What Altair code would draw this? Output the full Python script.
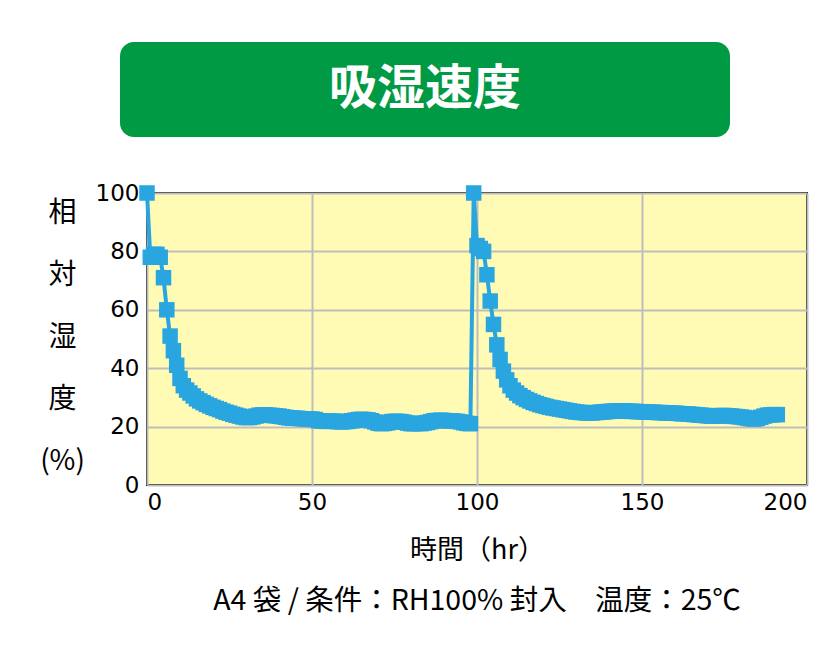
import altair as alt
import pandas as pd

# ---- data ----
hours = list(range(0, 192))
rh = [
    100, 78, 79, 79, 78, 71, 60, 51, 46, 41,
    36.5, 34, 32.5, 31.5, 30.5, 29.5, 28.8, 28.2, 27.6, 27.1,
    26.6, 26.2, 25.8, 25.3, 24.9, 24.6, 24.2, 23.9, 23.6, 23.3,
    23.1, 23.1, 23.3, 23.6, 23.9, 24.0, 24.0, 23.9, 23.8, 23.7,
    23.6, 23.4, 23.2, 23.0, 22.9, 22.9, 22.8, 22.7, 22.6, 22.6,
    22.6, 22.4, 22.0, 21.9, 21.8, 21.8, 21.9, 21.8, 21.7, 21.6,
    21.7, 21.8, 22.0, 22.2, 22.4, 22.5, 22.4, 22.3, 22.0, 21.6,
    21.2, 21.0, 21.1, 21.3, 21.7, 21.8, 21.8, 21.7, 21.5, 21.2,
    21.0, 21.0, 21.1, 21.0, 21.2, 21.4, 21.7, 22.0, 22.1, 22.2,
    22.1, 22.0, 22.0, 21.9, 21.8, 21.6, 21.3, 21.1, 21.0, 100,
    82, 81, 80, 72, 63, 55, 48, 43, 39, 36,
    34, 32.5, 31.5, 30.6, 29.9, 29.3, 28.8, 28.3, 27.9, 27.5,
    27.2, 26.9, 26.6, 26.4, 26.2, 26.0, 25.8, 25.6, 25.4, 25.2,
    25.0, 24.9, 24.8, 24.7, 24.7, 24.7, 24.8, 24.9, 25.0, 25.1,
    25.2, 25.3, 25.3, 25.4, 25.4, 25.3, 25.3, 25.2, 25.2, 25.1,
    25.1, 25.0, 25.0, 24.9, 24.9, 24.8, 24.8, 24.7, 24.7, 24.6,
    24.6, 24.5, 24.4, 24.4, 24.3, 24.2, 24.1, 24.0, 23.9, 23.8,
    23.7, 23.6, 23.6, 23.7, 23.8, 23.8, 23.7, 23.6, 23.5, 23.4,
    23.3, 23.1, 22.9, 22.7, 22.6, 22.8, 23.2, 23.6, 23.9, 24.0,
    24.1, 24.1,
]
x_ticks = [0, 50, 100, 150, 200]
y_ticks = [0, 20, 40, 60, 80, 100]
title_text = "吸湿速度"
y_title = ["相", "対", "湿", "度", "(%)"]
x_title = "時間（hr）"
note_text = "A4 袋 / 条件：RH100% 封入　温度：25℃"

FONT = "Noto Sans CJK JP"
NUM_FONT = "DejaVu Sans"
BLUE = "#29a6e0"
GREEN = "#009944"

df = pd.DataFrame({"hour": hours, "rh": rh})
one = pd.DataFrame({"t": [title_text], "n": [note_text]})

line = alt.Chart(df).mark_line(
    color=BLUE,
    strokeWidth=4,
    point=alt.OverlayMarkDef(shape="square", size=240, filled=True, color=BLUE, opacity=1),
).encode(
    x=alt.X(
        "hour:Q",
        scale=alt.Scale(domain=[0, 200], nice=False, zero=True),
        axis=alt.Axis(
            values=x_ticks, title=x_title, labelPadding=6,
            titleY=65, titleBaseline="middle", titleFontSize=27,
        ),
    ),
    y=alt.Y(
        "rh:Q",
        scale=alt.Scale(domain=[0, 100], nice=False),
        axis=alt.Axis(
            values=y_ticks, title=y_title, titleAngle=0, titleAlign="center",
            titleBaseline="top", titleX=-85, titleY=6, titleLineHeight=62,
            titleFontSize=28, labelPadding=8,
        ),
    ),
)

banner = alt.Chart(one).mark_rect(color=GREEN, cornerRadius=14).encode(
    x=alt.value(-27), x2=alt.value(583), y=alt.value(-151), y2=alt.value(-56)
)
banner_text = alt.Chart(one).mark_text(
    color="white", font=FONT, fontSize=48, fontWeight="bold", align="center", baseline="middle"
).encode(x=alt.value(278), y=alt.value(-103), text="t:N")

note = alt.Chart(one).mark_text(
    color="black", font=FONT, fontSize=28.5, align="center", baseline="middle"
).encode(x=alt.value(330), y=alt.value(408), text="n:N")

chart = alt.layer(banner, banner_text, note, line).properties(
    width=660,
    height=292,
    padding={"left": 139, "top": 185, "right": 25, "bottom": 161},
    autosize=alt.AutoSizeParams(type="none"),
    background="white",
).configure_view(
    fill="#fffab4", stroke="black", strokeWidth=2
).configure_axis(
    domain=False, ticks=False, grid=True, gridColor="#bdbdbd", gridWidth=2,
    labelFont=NUM_FONT, labelFontSize=23, labelColor="black",
    titleFont=FONT, titleColor="black", titleFontWeight="normal",
)

chart.save("out.html", embed_options={"renderer": "svg", "actions": False})
